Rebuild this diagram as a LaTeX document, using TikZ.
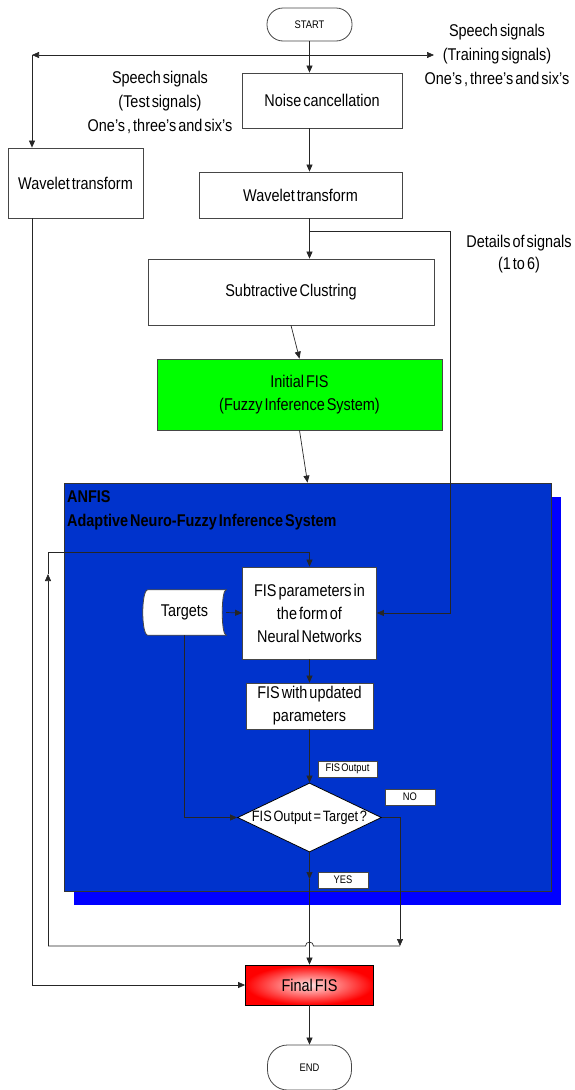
\documentclass[tikz,border=0pt]{standalone}
\usepackage{fontspec}
\setmainfont{Liberation Sans}[FakeStretch=0.85,WordSpace=0.5]
\usetikzlibrary{arrows.meta,shapes.geometric,shadows,backgrounds}

\definecolor{anfisblue}{RGB}{0,51,204}
\definecolor{shadowblue}{RGB}{0,0,255}
\definecolor{fisgreen}{RGB}{0,255,0}
\definecolor{edgegray}{RGB}{70,70,70}

\tikzset{
  box/.style={draw=edgegray, line width=0.8pt, fill=white, align=center,
    inner sep=2pt, font=\fontsize{17}{23}\selectfont},
  term/.style={box, rounded corners=16pt, font=\fontsize{11}{13}\selectfont},
  tag/.style={draw=edgegray, line width=0.6pt, fill=white, inner sep=0pt,
    font=\fontsize{11}{13}\selectfont},
  txt/.style={align=center, font=\fontsize{17}{24}\selectfont},
  line/.style={draw=black!85, line width=0.7pt},
  arr/.style={line, -{Triangle[length=7pt,width=6pt]}},
}

\begin{document}
\begin{tikzpicture}[x=1pt,y=-1pt]
    \useasboundingbox (0,0) rectangle (574,1090);

    % blocco ANFIS (sfondo)
    \begin{scope}[on background layer]
      \node[draw=black!80, line width=0.8pt, fill=anfisblue,
        drop shadow={shadow xshift=10pt, shadow yshift=-14pt, fill=shadowblue, opacity=1},
        minimum width=487, minimum height=408] (anfis) at (307.5,687) {};
    \end{scope}
    \node[anchor=north west, align=left, inner sep=0pt,
      font=\bfseries\fontsize{17}{24}\selectfont] (anfistitle) at (67,490)
      {ANFIS\\Adaptive Neuro-Fuzzy Inference System};

    % blocchi superiori
    \node[term, minimum width=85, minimum height=33] (start) at (309.5,24.5) {START};
    \node[box, minimum width=160, minimum height=55] (noise) at (322,100.5) {Noise cancellation};
    \node[box, minimum width=203, minimum height=46] (wtrain) at (300.5,195) {Wavelet transform};
    \node[box, minimum width=135, minimum height=70] (wtest) at (75.5,183) {Wavelet transform};
    \node[box, minimum width=286, minimum height=66] (sub) at (291,292) {Subtractive Clustring};
    \node[box, fill=fisgreen, minimum width=285, minimum height=71] (init) at (299.5,394.5)
      {Initial FIS\\(Fuzzy Inference System)};

    % etichette
    \node[txt] (testsig) at (160,102) {Speech signals\\(Test signals)\\One's , three's and six's};
    \node[txt] (trainsig) at (497,55) {Speech signals\\(Training signals)\\One's , three's and six's};
    \node[txt, font=\fontsize{17}{22}\selectfont] (details) at (519,254) {Details of signals\\(1 to 6)};

    % blocchi interni
    \node[box, minimum width=134, minimum height=92] (params) at (309.5,613)
      {FIS parameters in\\the form of\\Neural Networks};
    \node[inner sep=0pt, minimum width=83, minimum height=45,
      font=\fontsize{17}{23}\selectfont] (targets) at (184.5,612.5) {Targets};
    \node[box, minimum width=127, minimum height=46] (upd) at (309.5,706)
      {FIS with updated\\parameters};
    \node[tag, minimum width=59, minimum height=16] (outtag) at (347.5,769) {FIS Output};
    \node[diamond, draw=black, fill=white, line width=0.8pt, shape aspect=2.1, inner sep=0pt,
      minimum width=144, minimum height=69, font=\fontsize{15}{17}\selectfont] (check)
      at (309.5,817.5) {FIS Output = Target ?};
    \node[tag, minimum width=50, minimum height=16] (notag) at (410,797) {NO};
    \node[tag, minimum width=50, minimum height=16] (yestag) at (343,880) {YES};

    % blocchi finali
    \node[box, draw=black, shading=radial, inner color=red!12, outer color=red,
      minimum width=128, minimum height=40] (final) at (309.5,985) {Final FIS};
    \node[term, rounded corners=20pt, minimum width=84, minimum height=45] (end)
      at (309.5,1067.5) {END};

    % forma dei target
    \begin{scope}[on background layer]
      \draw[fill=white, draw=edgegray, line width=0.8pt]
        ([xshift=5pt]targets.north west) -- (targets.north east)
        .. controls ([xshift=-5.3pt]targets.north east) and ([xshift=-5.3pt]targets.south east)
        .. (targets.south east)
        -- ([xshift=5pt]targets.south west)
        .. controls ([xshift=-1.7pt]targets.south west) and ([xshift=-1.7pt]targets.north west)
        .. ([xshift=5pt]targets.north west);
    \end{scope}

    % punti di snodo
    \coordinate (split) at (309.5,55);
    \coordinate (lbus) at (32,55);
    \coordinate (rbus) at (434,55);
    \coordinate (branch) at (309.5,231);
    \coordinate (dtop) at (450,231);
    \coordinate (yesmid) at (309.5,879);
    \coordinate (noright) at (400,946);
    \coordinate (loopbl) at (48,946);
    \coordinate (loopmid) at (48,574);
    \coordinate (looptl) at (48,552);

    % frecce parte alta
    \draw[arr] (start.south) -- (start.south |- noise.north);
    \draw[arr] (split) -- (lbus);
    \draw[arr] (lbus) -- (lbus |- wtest.north);
    \draw[arr] (split) -- (rbus);
    \draw[arr] (noise.south -| split) -- (wtrain.north -| split);
    \draw[arr] (wtrain.south -| branch) -- (sub.north -| branch);
    \draw[arr] (branch) -- (dtop) |- (params.east);
    \draw[arr] (sub.south) -- (init.north);
    \draw[arr] (init.south) -- (anfis.north);

    % frecce ANFIS
    \draw[arr] (targets.east) -- (params.west);
    \draw[arr] (params.south) -- (upd.north);
    \draw[arr] (upd.south) -- (check.north);
    \draw[arr] (targets.south) |- (check.west);
    \draw[arr] (check.south) -- (yesmid);
    \draw[arr] (yesmid) -- (final.north);
    \draw[arr] (check.east) -| (noright);

    % anello di ritorno
    \draw[line] (noright) -- ([xshift=4pt]noright -| final.north)
      arc[start angle=0, end angle=-180, radius=4] -- (loopbl);
    \draw[arr] (loopbl) -- (loopmid);
    \draw[arr] (loopmid) -- (looptl) -| (params.north);

    % segnali di test
    \draw[arr] (lbus |- wtest.south) |- (final.west);
    \draw[arr] (final.south) -- (end.north);
\end{tikzpicture}
\end{document}
